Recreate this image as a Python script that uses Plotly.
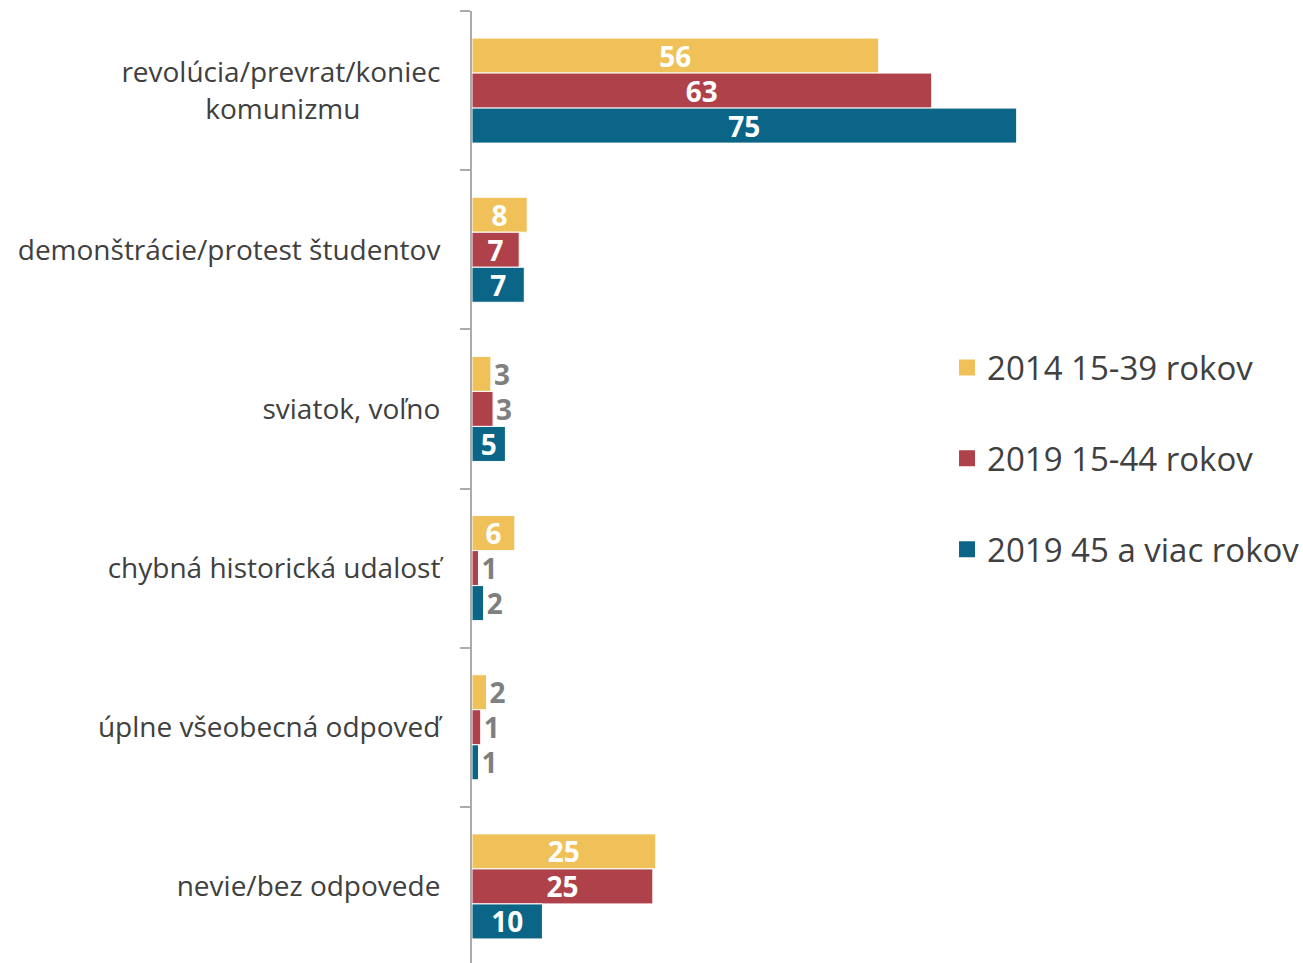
import plotly.graph_objects as go

categories = [
    "revolúcia/prevrat/koniec<br>komunizmu" + "\u00a0" * 11,
    "demonštrácie/protest študentov",
    "sviatok, voľno",
    "chybná historická udalosť",
    "úplne všeobecná odpoveď",
    "nevie/bez odpovede",
]
series_names = ["2014 15-39 rokov", "2019 15-44 rokov", "2019 45 a viac rokov"]
vals_2014_young = [56.0, 7.6, 2.6, 5.9, 2.0, 25.3]
vals_2019_young = [63.3, 6.5, 2.9, 0.9, 1.2, 24.9]
vals_2019_old = [75.0, 7.2, 4.6, 1.6, 0.9, 9.7]
colors = ["#EFC158", "#AE4149", "#0B6587"]

FONT = "Open Sans"
fig = go.Figure()
for i, (name, vals, col) in enumerate(zip(series_names,
                                          [vals_2014_young, vals_2019_young, vals_2019_old],
                                          colors)):
    fig.add_trace(go.Bar(
        y=categories, x=vals, name=name, orientation="h",
        marker=dict(color=col, line=dict(color="white", width=1)),
        texttemplate="%{x:.0f}",
        textposition=["inside" if v >= 4 else "outside" for v in vals],
        textangle=0,
        insidetextanchor="middle",
        insidetextfont=dict(family=FONT, size=28, color="white", weight="bold"),
        outsidetextfont=dict(family=FONT, size=28, color="#7F7F7F", weight="bold"),
        constraintext="none",
        cliponaxis=False,
        legendgroup=f"g{i}",
        showlegend=False,
    ))
    # legend entry with a larger square swatch
    fig.add_trace(go.Scatter(
        x=[None], y=[None], mode="markers", name=name,
        marker=dict(symbol="square", size=16, color=col),
        legendgroup=f"g{i}", showlegend=True, hoverinfo="skip",
    ))

fig.update_layout(
    width=1303, height=966,
    margin=dict(l=472, r=250, t=11, b=0, autoexpand=False),
    paper_bgcolor="white", plot_bgcolor="white",
    barmode="group", bargap=0.34, bargroupgap=0.0,
    font=dict(family=FONT, color="#404040"),
    legend=dict(
        x=0.8176, xanchor="left", y=0.656, yanchor="top",
        font=dict(family=FONT, size=33, color="#404040"),
        tracegroupgap=45, traceorder="grouped",
        bgcolor="rgba(0,0,0,0)",
    ),
    xaxis=dict(range=[0, 80], visible=False, showgrid=False, zeroline=False,
               automargin=False),
    yaxis=dict(
        autorange="reversed", showgrid=False, zeroline=False, automargin=False,
        showline=True, linecolor="#ABABAB", linewidth=2,
        ticks="outside", ticklen=10, tickcolor="#ABABAB", tickwidth=1.5,
        tickson="boundaries", ticklabelstandoff=24,
        tickfont=dict(family=FONT, size=28, color="#404040"),
    ),
)
fig.write_html(
    "out.html",
    config={"displayModeBar": False},
    post_script="document.body.style.margin='0px';document.body.style.overflow='hidden';",
)
